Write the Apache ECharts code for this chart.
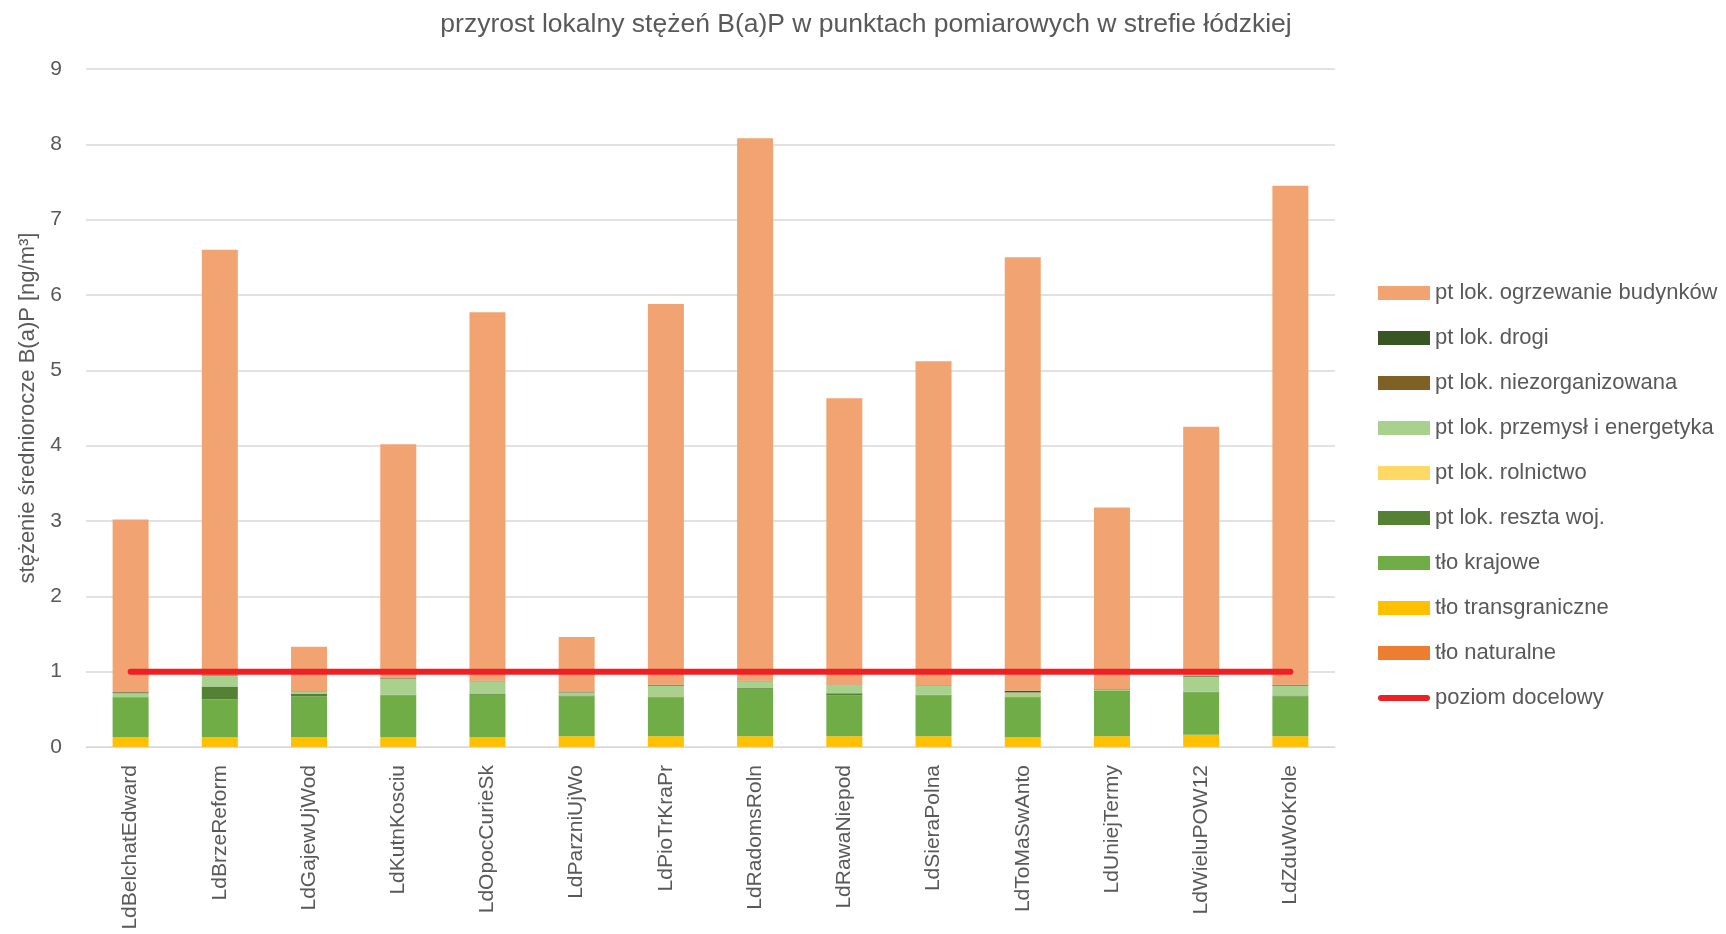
<!DOCTYPE html>
<html>
<head>
<meta charset="utf-8">
<script src="https://cdn.jsdelivr.net/npm/echarts@6/dist/echarts.min.js"></script>
<style>html,body{margin:0;padding:0;background:#fff}#c{width:1726px;height:934px}</style>
</head>
<body>
<div id="c"></div>
<script>
const categories = ["LdBelchatEdward","LdBrzeReform","LdGajewUjWod","LdKutnKosciu","LdOpocCurieSk","LdParzniUjWo","LdPioTrKraPr","LdRadomsRoln","LdRawaNiepod","LdSieraPolna","LdToMaSwAnto","LdUniejTermy","LdWieluPOW12","LdZduWoKrole"];
const totals        = [3.02, 6.60, 1.33, 4.02, 5.77, 1.46, 5.88, 8.08, 4.63, 5.12, 6.50, 3.18, 4.25, 7.45];
const tloNaturalne  = [0.002,0.002,0.002,0.002,0.002,0.002,0.002,0.002,0.002,0.002,0.002,0.002,0.002,0.002];
const tloTransgr    = [0.13, 0.13, 0.13, 0.13, 0.13, 0.14, 0.14, 0.14, 0.14, 0.14, 0.13, 0.14, 0.16, 0.14];
const tloKrajowe    = [0.52, 0.50, 0.54, 0.55, 0.56, 0.53, 0.52, 0.63, 0.54, 0.54, 0.53, 0.59, 0.56, 0.53];
const resztaWoj     = [0.01, 0.17, 0.03, 0.01, 0.01, 0.01, 0.01, 0.01, 0.03, 0.01, 0.01, 0.01, 0.01, 0.01];
const rolnictwo     = [0.002,0.002,0.002,0.002,0.002,0.002,0.002,0.002,0.002,0.002,0.002,0.002,0.002,0.002];
const przemysl      = [0.05, 0.14, 0.03, 0.21, 0.17, 0.04, 0.14, 0.09, 0.11, 0.12, 0.05, 0.02, 0.20, 0.13];
const niezorg       = [0.002,0.002,0.002,0.002,0.002,0.002,0.002,0.002,0.002,0.002,0.002,0.002,0.002,0.002];
const drogi         = [0.01, 0.005,0.005,0.005,0.005,0.005,0.01, 0.005,0.005,0.005,0.02, 0.005,0.005,0.01];
const poziomDocelowy = [1,1,1,1,1,1,1,1,1,1,1,1,1,1];
const yTicks = [0,1,2,3,4,5,6,7,8,9];

const lower = [tloNaturalne, tloTransgr, tloKrajowe, resztaWoj, rolnictwo, przemysl, niezorg, drogi];
const ogrzewanie = totals.map((t,i)=> +(t - lower.reduce((s,a)=>s+a[i],0)).toFixed(3));

const FONT = '"Liberation Sans", Arial, sans-serif';
const TXT = '#595959';
function bar(name, data, color){
  return {name, type:'bar', stack:'s', data, barWidth:36,
    itemStyle:{color}, emphasis:{disabled:true}};
}
const series = [
  bar('tło naturalne', tloNaturalne, '#ED7D31'),
  bar('tło transgraniczne', tloTransgr, '#FFC000'),
  bar('tło krajowe', tloKrajowe, '#70AD47'),
  bar('pt lok. reszta woj.', resztaWoj, '#548235'),
  bar('pt lok. rolnictwo', rolnictwo, '#FFD966'),
  bar('pt lok. przemysł i energetyka', przemysl, '#A9D18E'),
  bar('pt lok. niezorganizowana', niezorg, '#7F6025'),
  bar('pt lok. drogi', drogi, '#375623'),
  bar('pt lok. ogrzewanie budynków', ogrzewanie, '#F1A471'),
  {name:'poziom docelowy', type:'line', data:poziomDocelowy, symbol:'none', showSymbol:false,
   lineStyle:{color:'#EE2024', width:6, cap:'round'}, itemStyle:{color:'#EE2024'}, z:5}
];
const legendOrder = ['pt lok. ogrzewanie budynków','pt lok. drogi','pt lok. niezorganizowana','pt lok. przemysł i energetyka','pt lok. rolnictwo','pt lok. reszta woj.','tło krajowe','tło transgraniczne','tło naturalne','poziom docelowy'];
const LINE_ICON = 'path://M0,0 M3,4 L49,4 A3,3 0 0 1 49,10 L3,10 A3,3 0 0 1 3,4 Z M52,14';

const chart = echarts.init(document.getElementById('c'));
chart.setOption({
  animation:false,
  backgroundColor:'#fff',
  title:{text:'przyrost lokalny stężeń B(a)P w punktach pomiarowych w strefie łódzkiej', left:861, top:6, textAlign:'center',
    textStyle:{fontFamily:FONT, fontSize:26.5, fontWeight:'normal', color:TXT}},
  legend:{orient:'vertical', left:1373, top:277, itemWidth:52, itemHeight:14, itemGap:23,
    data:legendOrder.map(n=>n==='poziom docelowy'?{name:n, icon:LINE_ICON, itemStyle:{color:'#EE2024'}}:{name:n, icon:'rect'}),
    textStyle:{fontFamily:FONT, fontSize:22, color:TXT}},
  grid:{left:86, right:391, top:69, bottom:187, containLabel:false},
  xAxis:{type:'category', data:categories, boundaryGap:true,
    axisLine:{lineStyle:{color:'#d9d9d9', width:1}}, axisTick:{show:false},
    axisLabel:{rotate:90, fontFamily:FONT, fontSize:21, color:TXT, margin:18, interval:0}},
  yAxis:{type:'value', min:0, max:9, interval:1,
    name:'stężenie średniorocze B(a)P [ng/m³]', nameLocation:'middle', nameGap:46, nameRotate:90,
    nameTextStyle:{fontFamily:FONT, fontSize:22, color:TXT},
    axisLine:{show:false}, axisTick:{show:false},
    axisLabel:{fontFamily:FONT, fontSize:21, color:TXT, margin:24, formatter:v=>yTicks.includes(v)?String(v):''},
    splitLine:{lineStyle:{color:'#d9d9d9', width:1.5}}},
  series
});
</script>
</body>
</html>
